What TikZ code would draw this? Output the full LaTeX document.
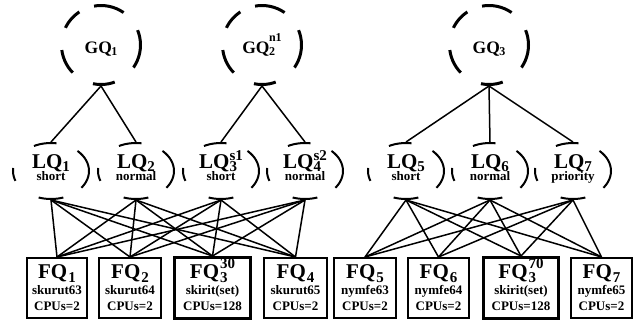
\documentclass[tikz,border=0pt]{standalone}
\usepackage{fontspec}
\setmainfont{Liberation Serif}
\usetikzlibrary{shapes.geometric}

% rows inside the nodes keep their baseline distance
\lineskiplimit=-20pt

% sub- and superscript stacked after a queue name: size, drop, rise, sub, sup
\newcommand{\qscr}[5]{{\fontsize{#1}{#1}\selectfont
  \setbox0\hbox{#4}\setbox2\hbox{#5}%
  \dimen0=\wd0 \ifdim\wd2>\dimen0 \dimen0=\wd2 \fi
  \rlap{\lower#2\box0}\smash{\rlap{\raise#3\box2}}\kern\dimen0}}
\newcommand{\gqn}[2]{GQ\kern-0.5pt\qscr{12}{2pt}{12pt}{#1}{#2}}
\newcommand{\lqn}[2]{LQ\kern0pt\qscr{15}{3pt}{8pt}{#1}{#2}}
\newcommand{\fqn}[2]{FQ\kern1pt\qscr{15}{4.5pt}{10pt}{#1}{#2}}
\newcommand{\fqtop}[1]{{\fontsize{21}{16}\selectfont#1}}
\newcommand{\lqtag}[1]{{\fontsize{13}{12}\selectfont#1}}

\begin{document}
\begin{tikzpicture}[x=1pt, y=-1pt,
  gq/.style={circle, draw, line width=3pt, minimum size=79pt, inner sep=0pt,
    dash pattern=on 39.3pt off 22.8pt on 31pt off 15.9pt on 21.4pt off 22.8pt
      on 25.5pt off 23.4pt on 22.1pt off 24.1pt,
    dash phase=24.1pt, text height=20pt, text depth=4pt,
    font=\fontsize{17.5}{17.5}\selectfont\bfseries},
  lq/.style={ellipse, draw, line width=2pt, minimum width=76pt,
    minimum height=56pt, inner sep=0pt,
    dash pattern=on 43.9pt off 22.6pt on 22.9pt off 31.7pt on 13.3pt
      off 29.4pt on 24.9pt off 20.8pt,
    dash phase=19.9pt, align=center, text height=26pt, text depth=8pt,
    font=\fontsize{21}{12}\selectfont\bfseries},
  fq/.style={rectangle, draw, line width=2pt, minimum height=60pt,
    inner sep=0pt, align=center, text height=46pt, text depth=2pt,
    font=\fontsize{13}{16}\selectfont\bfseries},
  fqset/.style={fq, line width=3pt, minimum height=61pt},
  link/.style={line width=1.5pt}
]
% global queues
\node[gq] (gq1) at (101,45) {\gqn{1}{}};
\node[gq] (gq2) at (262,45) {\gqn{2}{n1}};
\node[gq] (gq3) at (489,45) {\gqn{3}{}};

% local queues
\node[lq] (lq1) at (51,171)  {\lqn{1}{}\\\lqtag{short}};
\node[lq] (lq2) at (136,171) {\lqn{2}{}\\\lqtag{normal}};
\node[lq] (lq3) at (221,171) {\lqn{3}{s1}\\\lqtag{short}};
\node[lq] (lq4) at (305,171) {\lqn{4}{s2}\\\lqtag{normal}};
\node[lq] (lq5) at (406,171) {\lqn{5}{}\\\lqtag{short}};
\node[lq] (lq6) at (490,171) {\lqn{6}{}\\\lqtag{normal}};
\node[lq] (lq7) at (573,171) {\lqn{7}{}\\\lqtag{priority}};

% frontend queues
\node[fq, minimum width=60pt]    (fq1)  at (57,288)    {\fqtop{\fqn{1}{}}\\skurut63\\CPUs=2};
\node[fq, minimum width=62pt]    (fq2)  at (130,288)   {\fqtop{\fqn{2}{}}\\skurut64\\CPUs=2};
\node[fqset, minimum width=76pt] (fq3a) at (212.5,288) {\fqtop{\fqn{3}{30}}\\skirit(set)\\CPUs=128};
\node[fq, minimum width=63pt]    (fq4)  at (295.5,288) {\fqtop{\fqn{4}{}}\\skurut65\\CPUs=2};
\node[fq, minimum width=62pt]    (fq5)  at (365,288)   {\fqtop{\fqn{5}{}}\\nymfe63\\CPUs=2};
\node[fq, minimum width=61pt]    (fq6)  at (438.5,288) {\fqtop{\fqn{6}{}}\\nymfe64\\CPUs=2};
\node[fqset, minimum width=75pt] (fq3b) at (521,288)   {\fqtop{\fqn{3}{70}}\\skirit(set)\\CPUs=128};
\node[fq, minimum width=61pt]    (fq7)  at (601.5,288) {\fqtop{\fqn{7}{}}\\nymfe65\\CPUs=2};

% global -> local
\foreach \l in {lq1,lq2} \draw[link] (gq1.south) -- (\l.north);
\foreach \l in {lq3,lq4} \draw[link] (gq2.south) -- (\l.north);
\foreach \l in {lq5,lq6,lq7} \draw[link] (gq3.south) -- (\l.north);

% local -> frontend
\foreach \l in {lq1,lq2,lq3,lq4}
  \foreach \f in {fq1,fq2,fq3a,fq4}
    \draw[link] (\l.south) -- (\f.north);
\foreach \l in {lq5,lq6,lq7}
  \foreach \f in {fq5,fq6,fq3b,fq7}
    \draw[link] (\l.south) -- (\f.north);

\useasboundingbox (0,0) rectangle (641,325);
\end{tikzpicture}
\end{document}
